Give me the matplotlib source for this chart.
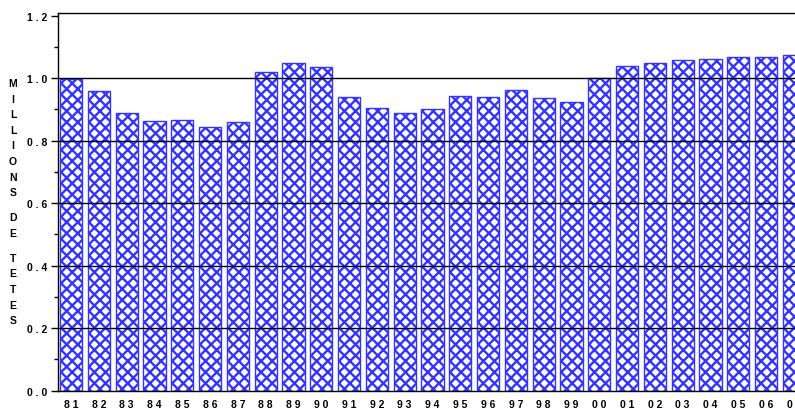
import matplotlib
matplotlib.use("Agg")
import matplotlib.pyplot as plt
import numpy as np

years = ["81", "82", "83", "84", "85", "86", "87", "88", "89", "90", "91", "92", "93", "94",
         "95", "96", "97", "98", "99", "00", "01", "02", "03", "04", "05", "06", "07"]
values = [0.997, 0.959, 0.887, 0.863, 0.866, 0.843, 0.859, 1.021, 1.047, 1.035, 0.939, 0.906,
          0.888, 0.901, 0.943, 0.940, 0.962, 0.938, 0.923, 0.999, 1.039, 1.047, 1.057, 1.060,
          1.069, 1.068, 1.074]
yticks = [0.0, 0.2, 0.4, 0.6, 0.8, 1.0, 1.2]
ylabel_letters = ["M", "I", "L", "L", "I", "O", "N", "S", "", "D", "E", "", "T", "E", "T", "E", "S"]

plt.rcParams['font.family'] = ['Liberation Sans', 'DejaVu Sans']
plt.rcParams['hatch.linewidth'] = 1.7
plt.rcParams['hatch.color'] = '#0000ff'

fig = plt.figure(figsize=(7.95, 4.10), dpi=100)
ax = fig.add_axes([0.073, 0.045, 0.943, 0.922])

x = np.arange(len(years))
ax.bar(x, values, width=0.8, color='white', edgecolor='#3333ff', hatch='xxx',
       linewidth=1.0, zorder=1)

ax.set_xlim(-0.47, 26.5)
ax.set_ylim(0, 1.21)

for v in yticks[1:-1]:
    ax.axhline(v, color='black', linewidth=1.0, zorder=3)

ax.spines['right'].set_visible(False)
for s in ['left', 'bottom', 'top']:
    ax.spines[s].set_linewidth(1.0)
    ax.spines[s].set_color('black')

ax.set_yticks(yticks)
ax.set_yticklabels([f"{v:.1f}".replace(".", " . ") for v in yticks],
                   fontsize=7.5, fontweight='bold')
ax.set_yticks(np.arange(0.1, 1.2, 0.2), minor=True)
ax.tick_params(axis='y', which='major', direction='out', length=5, width=1, pad=3)
ax.tick_params(axis='y', which='minor', direction='out', length=3, width=1)

ax.set_xticks(x)
ax.set_xticklabels([" ".join(y) for y in years], fontsize=7.5, fontweight='bold')
ax.tick_params(axis='x', which='major', length=0, pad=6)

y0 = 1 - 84 / 410
step = 15.6 / 410
pos = y0
for letter in ylabel_letters:
    if letter:
        fig.text(13 / 795, pos, letter, fontsize=7.5, fontweight='bold',
                 ha='center', va='center')
        pos -= step
    else:
        pos -= step * 0.6

fig.savefig("out.png", dpi=100)
